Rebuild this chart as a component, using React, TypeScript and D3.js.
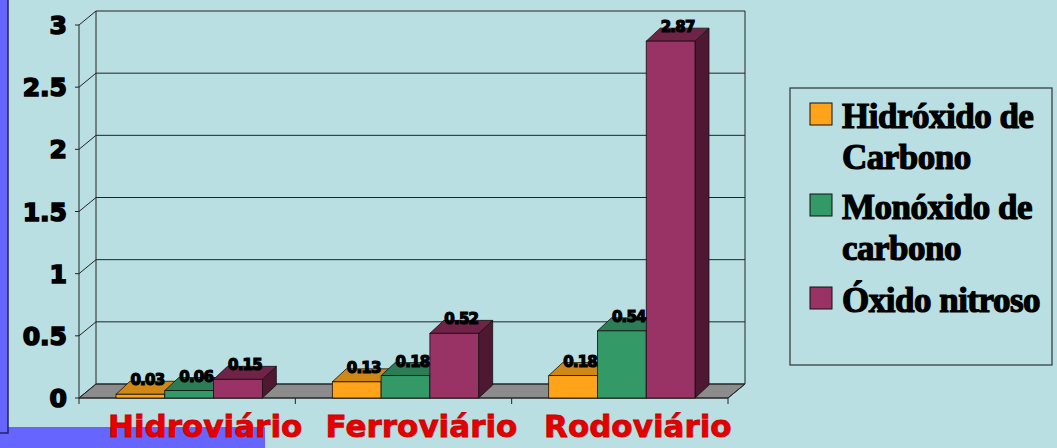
import * as d3 from "d3";
import React, { useEffect, useRef } from "react";

const categories = ["Hidroviário", "Ferroviário", "Rodoviário"];
const seriesNames = ["Hidróxido de Carbono", "Monóxido de carbono", "Óxido nitroso"];
const hidroxido = [0.03, 0.13, 0.18];
const monoxido = [0.06, 0.18, 0.54];
const oxidoNitroso = [0.15, 0.52, 2.87];
const yTicks = [0, 0.5, 1, 1.5, 2, 2.5, 3];
const legendLines = [["Hidróxido de", "Carbono"], ["Monóxido de", "carbono"], ["Óxido nitroso"]];

const frontColors = ["#ffa31a", "#339966", "#993366"];
const topColors = ["#cf8716", "#2b7d55", "#6e2347"];
const sideColors = ["#a86a10", "#215f41", "#4e1832"];

function Chart() {
  const ref = useRef<SVGSVGElement>(null);

  useEffect(() => {
    const svg = d3.select(ref.current);
    svg.selectAll("*").remove();

    const W = 1057, H = 448;
    const wallDx = 17, wallDy = -14;
    const barDx = 14, barDy = -13;

    const x = d3.scaleBand().domain(categories).range([79, 728]).padding(0);
    const xs = d3.scaleBand().domain(seriesNames).range([37, x.bandwidth() - 33]).padding(0);
    const y = d3.scaleLinear().domain([0, 3]).range([398, 25]);

    // background
    svg.append("rect").attr("width", W).attr("height", H).attr("fill", "#badfe3");
    svg.append("rect").attr("x", 0).attr("y", 0).attr("width", 8).attr("height", H).attr("fill", "#6666ff");
    svg.append("rect").attr("x", 0).attr("y", 427).attr("width", 265).attr("height", 21).attr("fill", "#6666ff");
    svg.append("path").attr("d", "M8,0V433H0").attr("fill", "none").attr("stroke", "#222266").attr("stroke-width", 1.5);

    const x0 = x.range()[0], x1 = x.range()[1];
    const yTop = y(3), yBase = y(0);

    // floor
    svg.append("path")
      .attr("d", `M${x0},${yBase}L${x0 + wallDx},${yBase + wallDy}L${x1 + wallDx},${yBase + wallDy}L${x1},${yBase}Z`)
      .attr("fill", "#8c8c8c").attr("stroke", "#333").attr("stroke-width", 1);

    // walls and gridlines
    const grid = svg.append("g").attr("stroke", "#222").attr("stroke-width", 1).attr("fill", "none");
    yTicks.forEach((t) => {
      const yy = y(t);
      grid.append("path").attr("d", `M${x0 - 4},${yy}H${x0}L${x0 + wallDx},${yy + wallDy}H${x1 + wallDx}`);
    });
    grid.append("line").attr("x1", x0).attr("x2", x0).attr("y1", yTop).attr("y2", yBase + 6);
    grid.append("line").attr("x1", x0 + wallDx).attr("x2", x0 + wallDx).attr("y1", yTop + wallDy).attr("y2", yBase + wallDy);
    grid.append("line").attr("x1", x1 + wallDx).attr("x2", x1 + wallDx).attr("y1", yTop + wallDy).attr("y2", yBase + wallDy);
    grid.append("line").attr("x1", x1).attr("x2", x1 + wallDx).attr("y1", yBase).attr("y2", yBase + wallDy);
    grid.append("line").attr("x1", x0).attr("x2", x1).attr("y1", yBase).attr("y2", yBase);
    categories.forEach((c) => {
      const cx = (x(c) as number) + x.bandwidth();
      grid.append("line").attr("x1", cx).attr("x2", cx).attr("y1", yBase).attr("y2", yBase + 6);
    });

    // y labels
    svg.append("g")
      .selectAll("text")
      .data(yTicks)
      .enter()
      .append("text")
      .attr("x", 67)
      .attr("y", (d) => y(d))
      .attr("dy", "0.36em")
      .attr("text-anchor", "end")
      .attr("font-family", "DejaVu Sans")
      .attr("font-weight", "bold")
      .attr("font-size", "25px")
      .attr("fill", "#000")
      .attr("stroke", "#000")
      .attr("stroke-width", 1.6)
      .text((d) => d3.format("")(d));

    // bars
    const allSeries = [hidroxido, monoxido, oxidoNitroso];
    const bars = svg.append("g");
    categories.forEach((c, ci) => {
      allSeries.forEach((vals, si) => {
        const v = vals[ci];
        const bx = (x(c) as number) + (xs(seriesNames[si]) as number);
        const bw = xs.bandwidth();
        const top = y(v);
        const g = bars.append("g").attr("stroke", "#111").attr("stroke-width", 0.8);
        g.append("path")
          .attr("d", `M${bx + bw},${yBase}L${bx + bw + barDx},${yBase + barDy}L${bx + bw + barDx},${top + barDy}L${bx + bw},${top}Z`)
          .attr("fill", sideColors[si]);
        g.append("path")
          .attr("d", `M${bx},${top}L${bx + barDx},${top + barDy}L${bx + bw + barDx},${top + barDy}L${bx + bw},${top}Z`)
          .attr("fill", topColors[si]);
        g.append("rect")
          .attr("x", bx).attr("y", top).attr("width", bw).attr("height", yBase - top)
          .attr("fill", frontColors[si]);
      });
    });

    // value labels
    const labels = svg.append("g");
    categories.forEach((c, ci) => {
      allSeries.forEach((vals, si) => {
        const v = vals[ci];
        const bx = (x(c) as number) + (xs(seriesNames[si]) as number);
        labels.append("text")
          .attr("x", bx + xs.bandwidth() / 2 + barDx / 2)
          .attr("y", y(v) - 9)
          .attr("text-anchor", "middle")
          .attr("font-family", "DejaVu Sans")
          .attr("font-weight", "bold")
          .attr("font-size", "15px")
          .attr("letter-spacing", "-0.8px")
          .attr("fill", "#000")
          .attr("stroke", "#000")
          .attr("stroke-width", 1.2)
          .text(d3.format(".2f")(v));
      });
    });

    // category labels
    svg.append("g")
      .selectAll("text")
      .data(categories)
      .enter()
      .append("text")
      .attr("x", (d) => (x(d) as number) + x.bandwidth() / 2 + 18)
      .attr("y", 437)
      .attr("text-anchor", "middle")
      .attr("font-family", "DejaVu Sans")
      .attr("font-weight", "bold")
      .attr("font-size", "31px")
      .attr("fill", "#e60000")
      .attr("stroke", "#c80000")
      .attr("stroke-width", 0.8)
      .text((d) => d);

    // legend
    const lg = svg.append("g");
    lg.append("rect").attr("x", 790).attr("y", 88).attr("width", 262).attr("height", 277)
      .attr("fill", "none").attr("stroke", "#333").attr("stroke-width", 1.2);
    const entryY = [103, 194, 287];
    legendLines.forEach((lines, i) => {
      lg.append("rect").attr("x", 810).attr("y", entryY[i]).attr("width", 22).attr("height", 22)
        .attr("fill", frontColors[i]).attr("stroke", "#111").attr("stroke-width", 1);
      lines.forEach((line, li) => {
        lg.append("text")
          .attr("x", 842)
          .attr("y", entryY[i] + 25 + li * 41)
          .attr("font-family", "Liberation Serif")
          .attr("font-weight", "bold")
          .attr("font-size", "35px")
          .attr("letter-spacing", "-0.5px")
          .attr("fill", "#000")
          .attr("stroke", "#000")
          .attr("stroke-width", 1.2)
          .text(line);
      });
    });
  }, []);

  return (
    <svg
      ref={ref}
      width={1057}
      height={448}
      style={{ position: "absolute", left: 0, top: 0, display: "block" }}
    />
  );
}

export default function App() {
  return <Chart />;
}
